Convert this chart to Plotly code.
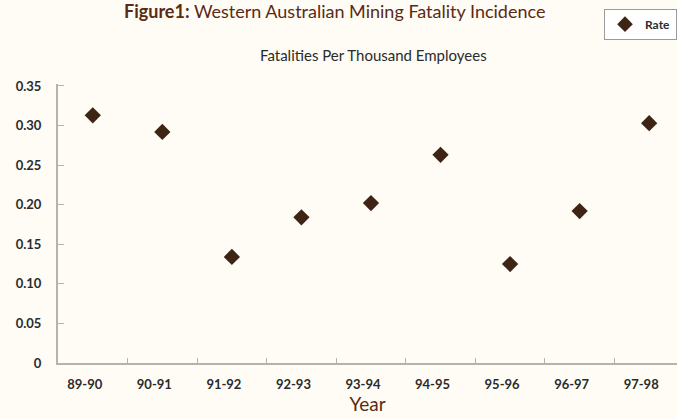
import plotly.graph_objects as go

# Financial years and fatality rate per thousand employees
years = ["89-90", "90-91", "91-92", "92-93", "93-94", "94-95", "95-96", "96-97", "97-98"]
rates = [0.313, 0.292, 0.134, 0.184, 0.202, 0.263, 0.125, 0.192, 0.303]

y_tick_vals = [0, 0.05, 0.10, 0.15, 0.20, 0.25, 0.30, 0.35]
y_tick_text = ["0", "0.05", "0.10", "0.15", "0.20", "0.25", "0.30", "0.35"]

bg = "#fefcf5"
brown = "#5b2a14"
marker_col = "#3d2415"
axis_col = "#b5b2aa"
font_family = "Lato, 'Open Sans', sans-serif"

fig = go.Figure()
fig.add_trace(go.Scatter(
    x=years, y=rates, mode="markers", name="<b>Rate</b>",
    marker=dict(symbol="diamond", size=12.5, color=marker_col,
                line=dict(width=0)),
))

fig.update_layout(
    width=677, height=419,
    paper_bgcolor=bg, plot_bgcolor=bg,
    margin=dict(l=58, r=0, t=84, b=56),
    font=dict(family=font_family, color="#2b2b2b"),
    showlegend=True,
    legend=dict(
        x=1.0, y=1.27, xanchor="right", yanchor="top",
        bgcolor="#ffffff", bordercolor="#9a9a9a", borderwidth=1,
        font=dict(size=12, color="#2b2b2b", family=font_family),
        itemsizing="constant", tracegroupgap=0,
    ),
    xaxis=dict(
        type="category", range=[-0.5, 8.4],
        showline=True, linecolor=axis_col, linewidth=2,
        ticks="inside", tickson="boundaries", ticklen=5,
        tickcolor=axis_col, tickwidth=1,
        showgrid=False, zeroline=False,
        tickfont=dict(size=13, color="#2b2b2b", family=font_family, weight="bold"),
        ticklabelstandoff=8, ticklabelshift=-8,
        title=dict(text="Year", font=dict(size=19, color=brown, family=font_family), standoff=6),
    ),
    yaxis=dict(
        range=[0, 0.3525],
        tickvals=y_tick_vals, ticktext=y_tick_text,
        showline=True, linecolor=axis_col, linewidth=2,
        ticks="inside", ticklen=6, tickcolor=axis_col, tickwidth=1,
        showgrid=False, zeroline=False,
        tickfont=dict(size=13, color="#2b2b2b", family=font_family, weight="bold"),
        ticklabelstandoff=12,
    ),
    annotations=[
        dict(
            text="<b>Figure1:</b> Western Australian Mining Fatality Incidence",
            xref="paper", yref="paper", x=0.447, y=1.262,
            xanchor="center", yanchor="middle", showarrow=False,
            font=dict(size=18, color=brown, family=font_family),
        ),
        dict(
            text="Fatalities Per Thousand Employees",
            xref="paper", yref="paper", x=0.509, y=1.105,
            xanchor="center", yanchor="middle", showarrow=False,
            font=dict(size=15, color="#2b2b2b", family=font_family),
        ),
    ],
)

fig.write_html("out.html")
